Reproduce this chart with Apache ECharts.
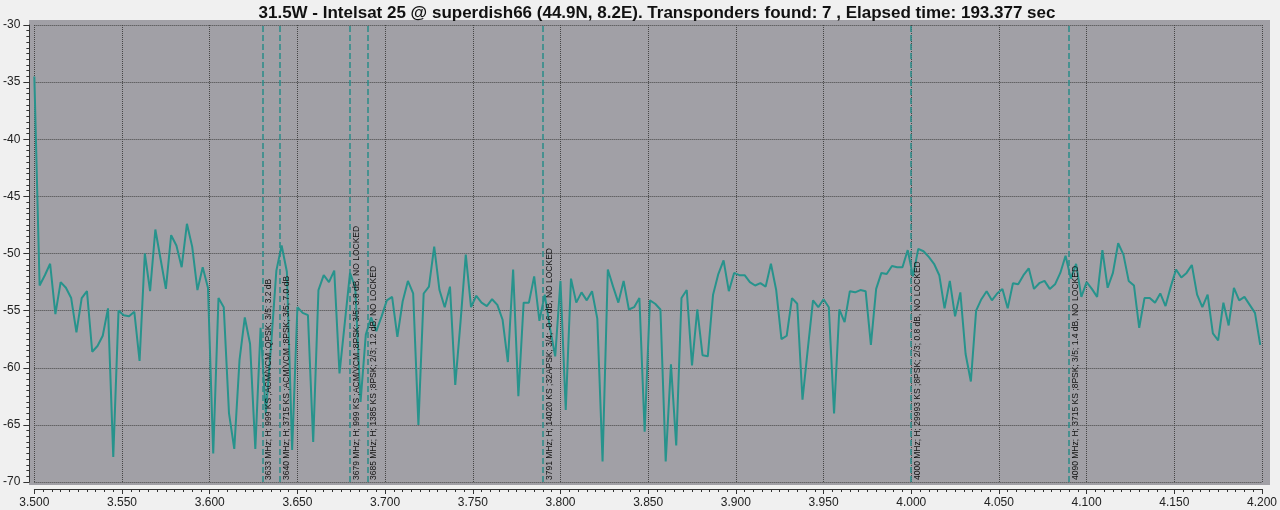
<!DOCTYPE html>
<html>
<head>
<meta charset="utf-8">
<script src="https://cdn.jsdelivr.net/npm/echarts@6/dist/echarts.min.js"></script>
<style>
html,body{margin:0;padding:0;background:#f0f0f0;overflow:hidden;}
#chart{width:1280px;height:510px;}
</style>
</head>
<body>
<div id="chart"></div>
<script>
const titleText = '31.5W - Intelsat 25 @ superdish66 (44.9N, 8.2E). Transponders found: 7 , Elapsed time: 193.377 sec';

// scan: start frequency (GHz) and step (GHz) between samples
const scanStartGHz = 3.500;
const scanStepGHz = 0.003;

// level in dB, one per sample
const levels = [
-34.5,-52.8,-51.9,-50.9,-55.3,-52.5,-53.0,-53.9,-56.9,-53.9,
-53.3,-58.6,-58.1,-57.2,-54.8,-67.8,-55.0,-55.4,-55.5,-55.1,
-59.4,-50.0,-53.3,-47.9,-50.5,-53.1,-48.4,-49.3,-51.2,-47.4,
-49.4,-53.2,-51.2,-53.0,-67.5,-53.9,-54.7,-64.0,-67.1,-59.3,
-55.6,-57.9,-67.1,-56.5,-64.0,-58.0,-51.5,-49.3,-51.6,-67.2,
-54.7,-55.2,-55.4,-66.5,-53.2,-51.9,-52.5,-51.5,-60.5,-56.1,
-51.7,-53.0,-63.0,-57.1,-55.6,-56.8,-55.5,-54.1,-53.8,-57.3,
-54.2,-52.4,-53.5,-65.0,-53.5,-52.9,-49.4,-53.2,-54.7,-52.9,
-61.5,-56.0,-50.1,-54.7,-53.7,-54.3,-54.6,-54.0,-54.5,-55.8,
-59.5,-51.4,-62.5,-54.3,-54.3,-52.0,-55.9,-53.6,-56.5,-59.0,
-52.4,-63.7,-52.2,-54.3,-53.4,-54.1,-53.3,-55.7,-68.2,-51.4,
-52.9,-54.3,-52.4,-54.9,-54.7,-53.9,-65.6,-54.1,-54.4,-54.9,
-68.2,-59.7,-66.8,-53.9,-53.2,-59.8,-54.9,-58.9,-59.0,-53.6,
-51.8,-50.6,-53.3,-51.7,-51.9,-51.9,-52.5,-52.8,-52.6,-52.9,
-50.9,-53.2,-57.5,-57.2,-53.9,-54.4,-62.8,-58.4,-54.1,-54.7,
-54.0,-54.7,-64.0,-54.9,-56.0,-53.3,-53.4,-53.2,-53.3,-58.0,
-53.1,-51.7,-51.8,-51.1,-51.2,-51.2,-49.7,-52.0,-49.6,-49.8,
-50.3,-50.9,-51.9,-54.8,-52.4,-55.5,-53.4,-58.8,-61.2,-55.0,
-54.0,-53.3,-54.1,-53.5,-53.1,-54.8,-52.6,-52.7,-51.9,-51.3,
-53.1,-52.6,-52.4,-53.1,-52.7,-51.7,-50.2,-52.2,-50.9,-53.8,
-52.5,-53.1,-53.8,-49.7,-53.0,-51.7,-49.1,-50.1,-52.4,-52.8,
-56.5,-53.9,-53.9,-54.3,-53.5,-54.6,-52.9,-51.4,-52.1,-51.7,
-51.0,-53.6,-54.7,-53.6,-57.0,-57.6,-54.3,-56.3,-53.0,-54.1,
-53.8,-54.5,-55.2,-58.0
];

// transponder markers
const markerFreqs = [3.633, 3.640, 3.679, 3.685, 3.791, 4.000, 4.090];
const markerLabels = [
'3633 MHz; H; 999 KS ;ACM/VCM ;QPSK; 3/5; 3.2 dB',
'3640 MHz; H; 3715 KS ;ACM/VCM ;8PSK; 3/5; 7.0 dB',
'3679 MHz; H; 999 KS ;ACM/VCM ;8PSK; 3/5; 3.8 dB, NO LOCKED',
'3685 MHz; H; 1385 KS ;8PSK; 2/3; 1.2 dB, NO LOCKED',
'3791 MHz; H; 14020 KS ;32APSK; 3/4; -0.6 dB, NO LOCKED',
'4000 MHz; H; 29993 KS ;8PSK; 2/3; 0.8 dB, NO LOCKED',
'4090 MHz; H; 3715 KS ;8PSK; 3/5; 1.4 dB, NO LOCKED'
];

// axes
const xMin = 3.5, xMax = 4.2, xStep = 0.05;
const yMin = -70, yMax = -30, yStep = 5;

const seriesData = levels.map((v, i) => [+(scanStartGHz + i * scanStepGHz).toFixed(3), v]);

const chart = echarts.init(document.getElementById('chart'), null, {renderer: 'canvas', width: 1280, height: 510});
const gridLeft = 32, gridRight = 14, gridTop = 25, gridBottom = 28;
const font = 'Liberation Sans';

chart.setOption({
  animation: false,
  backgroundColor: '#f0f0f0',
  title: {
    text: titleText,
    left: 652,
    top: 0,
    textAlign: 'center',
    textStyle: {fontFamily: font, fontWeight: 'bold', fontSize: 17, color: '#111'}
  },
  graphic: [{
    type: 'rect', z: -10, silent: true,
    shape: {x: 29, y: 20, width: 1241, height: 465},
    style: {fill: '#a1a0a6'}
  }],
  grid: {left: gridLeft, right: gridRight, top: gridTop, bottom: gridBottom},
  xAxis: {
    type: 'value', min: xMin, max: xMax, interval: xStep,
    offset: 7,
    axisLine: {show: true, lineStyle: {color: '#333', width: 1}},
    axisTick: {show: true, length: 5, lineStyle: {color: '#333'}},
    minorTick: {show: true, splitNumber: 10, length: 3, lineStyle: {color: '#333'}},
    axisLabel: {formatter: v => v.toFixed(3), fontFamily: font, fontSize: 12, color: '#222', margin: 8},
    splitLine: {show: true, lineStyle: {color: '#454545', type: [1, 1], width: 1}}
  },
  yAxis: {
    type: 'value', min: yMin, max: yMax, interval: yStep,
    offset: 5,
    axisLine: {show: true, lineStyle: {color: '#333', width: 1}},
    axisTick: {show: true, length: 6, lineStyle: {color: '#333'}},
    minorTick: {show: true, splitNumber: 10, length: 3, lineStyle: {color: '#333'}},
    axisLabel: {fontFamily: font, fontSize: 12, color: '#222', margin: 9},
    splitLine: {show: true, lineStyle: {color: '#454545', type: [1, 1], width: 1}}
  },
  series: [{
    type: 'line',
    data: seriesData,
    showSymbol: false,
    lineStyle: {color: '#27938c', width: 2},
    itemStyle: {color: '#27938c'},
    markLine: {
      symbol: 'none', silent: true,
      lineStyle: {color: '#2a8c89', type: [6, 3], width: 1.5},
      label: {
        show: true, position: 'insideStartBottom', formatter: p => p.name,
        fontFamily: font, fontSize: 8.5, color: '#111', distance: 2
      },
      data: markerFreqs.map((f, i) => ({xAxis: f, name: markerLabels[i]}))
    }
  }]
});
</script>
</body>
</html>
